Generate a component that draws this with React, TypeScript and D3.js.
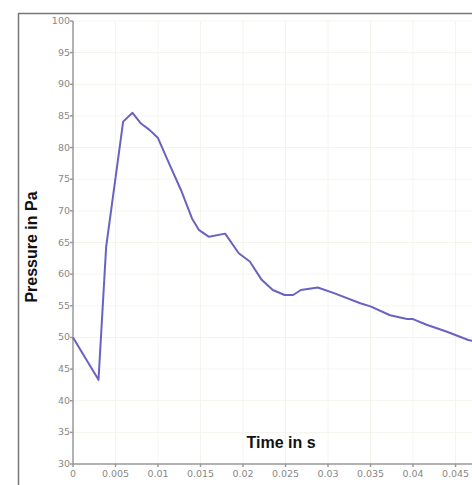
import React from "react";
import * as d3 from "d3";

// time (s) and pressure (Pa)
const time = [
  0, 0.003, 0.0039, 0.0059, 0.007, 0.008, 0.009, 0.01, 0.0113, 0.0127, 0.014,
  0.0148, 0.016, 0.0179, 0.0195, 0.0208, 0.0222, 0.0235, 0.0249, 0.0259,
  0.0268, 0.0288, 0.0307, 0.0338, 0.035, 0.0373, 0.0393, 0.04, 0.0416, 0.044,
  0.0465, 0.05,
];
const pressure = [
  50, 43.3, 64.3, 84.1, 85.5, 83.8, 82.8, 81.5, 77.5, 73.3, 68.8, 67.0, 65.9,
  66.4, 63.3, 62.0, 59.1, 57.5, 56.7, 56.7, 57.5, 57.9, 57.0, 55.4, 54.9, 53.5,
  52.9, 52.9, 52.0, 50.9, 49.6, 48.5,
];
const xTicks = [0, 0.005, 0.01, 0.015, 0.02, 0.025, 0.03, 0.035, 0.04, 0.045];
const yTicks = [30, 35, 40, 45, 50, 55, 60, 65, 70, 75, 80, 85, 90, 95, 100];

const W = 472;
const H = 485;

const App = () => {
  const x = d3.scaleLinear().domain([0, 0.05]).range([73, 498]);
  const y = d3.scaleLinear().domain([30, 100]).range([464, 21]);
  const line = d3
    .line<number>()
    .x((d, i) => x(time[i]))
    .y((d) => y(d));

  const tickFont = "'DejaVu Sans', sans-serif";

  return (
    <svg
      width={W}
      height={H}
      style={{ position: "absolute", left: 0, top: 0, background: "#fff" }}
    >
      {/* outer frame */}
      <line x1={18} y1={13.5} x2={W} y2={13.5} stroke="#777" strokeWidth={1.5} />
      <line x1={18.5} y1={13} x2={18.5} y2={H} stroke="#777" strokeWidth={1.5} />

      {/* faint grid */}
      <g stroke="#f4f4ee" strokeWidth={1}>
        {xTicks.slice(1).map((t) => (
          <line key={"gx" + t} x1={x(t)} x2={x(t)} y1={y(100)} y2={y(30)} />
        ))}
        {yTicks.slice(1).map((t) => (
          <line key={"gy" + t} x1={x(0)} x2={W} y1={y(t)} y2={y(t)} />
        ))}
      </g>

      {/* axes */}
      <g stroke="#999" strokeWidth={1.5}>
        <line x1={x(0)} x2={x(0)} y1={y(100)} y2={y(30)} />
        <line x1={x(0)} x2={W} y1={y(30)} y2={y(30)} />
        {yTicks.map((t) => (
          <line key={"ty" + t} x1={x(0) - 3} x2={x(0)} y1={y(t)} y2={y(t)} />
        ))}
        {xTicks.map((t) => (
          <line key={"tx" + t} x1={x(t)} x2={x(t)} y1={y(30)} y2={y(30) + 3} />
        ))}
      </g>

      <g fill="#888" fontFamily={tickFont} fontSize={9.5}>
        {yTicks.map((t) => (
          <text key={"ly" + t} x={x(0) - 3} y={y(t) + 3} textAnchor="end">
            {t}
          </text>
        ))}
        {xTicks.map((t) => (
          <text key={"lx" + t} x={x(t)} y={y(30) + 13} textAnchor="middle">
            {t}
          </text>
        ))}
      </g>

      <path
        d={line(pressure) || ""}
        fill="none"
        stroke="#6a62c2"
        strokeWidth={2}
        strokeLinejoin="round"
      />

      <text
        x={281}
        y={448}
        textAnchor="middle"
        fontFamily="'Liberation Sans', Arial, sans-serif"
        fontWeight="bold"
        fontSize={16}
        fill="#111"
      >
        Time in s
      </text>
      <text
        transform="translate(37,247) rotate(-90)"
        textAnchor="middle"
        fontFamily="'Liberation Sans', Arial, sans-serif"
        fontWeight="bold"
        fontSize={16}
        fill="#111"
      >
        Pressure in Pa
      </text>
    </svg>
  );
};

export default App;
